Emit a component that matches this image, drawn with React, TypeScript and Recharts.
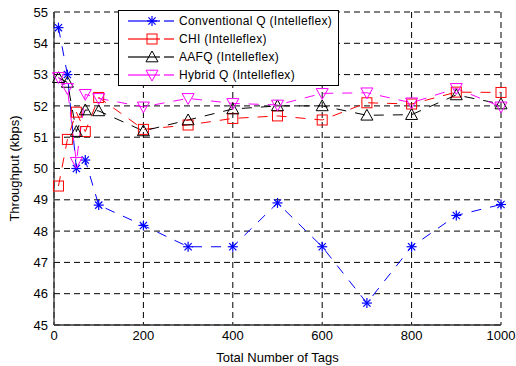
import React from 'react';
import { LineChart, Line, XAxis, YAxis, CartesianGrid } from 'recharts';

const tags = [10, 30, 50, 70, 100, 200, 300, 400, 500, 600, 700, 800, 900, 1000];
const conventionalQ = [54.5, 53.0, 50.0, 50.27, 48.83, 48.18, 47.5, 47.5, 48.9, 47.5, 45.7, 47.5, 48.5, 48.85];
const chi = [49.44, 50.93, 51.8, 51.18, 52.27, 51.25, 51.39, 51.6, 51.68, 51.55, 52.1, 52.06, 52.44, 52.43];
const aafq = [52.9, 52.75, 51.18, 51.87, 51.84, 51.2, 51.55, 51.9, 52.0, 52.0, 51.7, 51.72, 52.35, 52.06];
const hybridQ = [52.91, 52.56, 50.2, 52.37, 52.24, 51.97, 52.24, 52.08, 52.03, 52.4, 52.42, 52.1, 52.56, 51.97];
const xTicks = [0, 200, 400, 600, 800, 1000];
const yTicks = [45, 46, 47, 48, 49, 50, 51, 52, 53, 54, 55];

const data = tags.map((t, i) => ({
  tags: t,
  conv: conventionalQ[i],
  chi: chi[i],
  aafq: aafq[i],
  hybrid: hybridQ[i],
}));

const FONT = 'Liberation Sans, Arial, sans-serif';

const Star = (props: any) => {
  const { cx, cy, key } = props;
  if (cx == null || cy == null) return null;
  const r = 5;
  const d = r * 0.72;
  return (
    <g key={key} stroke="#0000ff" strokeWidth={1.2}>
      <line x1={cx - r} y1={cy} x2={cx + r} y2={cy} />
      <line x1={cx} y1={cy - r} x2={cx} y2={cy + r} />
      <line x1={cx - d} y1={cy - d} x2={cx + d} y2={cy + d} />
      <line x1={cx - d} y1={cy + d} x2={cx + d} y2={cy - d} />
    </g>
  );
};

const Square = (props: any) => {
  const { cx, cy, key } = props;
  if (cx == null || cy == null) return null;
  const s = 5;
  return <rect key={key} x={cx - s} y={cy - s} width={2 * s} height={2 * s} fill="none" stroke="#ff0000" strokeWidth={1} />;
};

const TriUp = (props: any) => {
  const { cx, cy, key } = props;
  if (cx == null || cy == null) return null;
  const s = 6;
  return <polygon key={key} points={`${cx},${cy - s} ${cx - s},${cy + s * 0.8} ${cx + s},${cy + s * 0.8}`} fill="none" stroke="#000" strokeWidth={1} />;
};

const TriDown = (props: any) => {
  const { cx, cy, key } = props;
  if (cx == null || cy == null) return null;
  const s = 6;
  return <polygon key={key} points={`${cx},${cy + s} ${cx - s},${cy - s * 0.8} ${cx + s},${cy - s * 0.8}`} fill="none" stroke="#ff00ff" strokeWidth={1} />;
};

const legendItems = [
  { label: 'Conventional Q (Intelleflex)', color: '#0000ff', marker: 'star' },
  { label: 'CHI (Intelleflex)', color: '#ff0000', marker: 'square' },
  { label: 'AAFQ (Intelleflex)', color: '#000000', marker: 'up' },
  { label: 'Hybrid Q (Intelleflex)', color: '#ff00ff', marker: 'down' },
];

const renderMarker = (m: string, cx: number, cy: number) => {
  if (m === 'star') return <Star cx={cx} cy={cy} />;
  if (m === 'square') return <Square cx={cx} cy={cy} />;
  if (m === 'up') return <TriUp cx={cx} cy={cy} />;
  return <TriDown cx={cx} cy={cy} />;
};

const LegendBox = () => (
  <div
    style={{
      position: 'absolute',
      left: 118,
      top: 10,
      width: 221,
      height: 76,
      border: '1px solid #000',
      background: '#fff',
      boxSizing: 'border-box',
      fontFamily: FONT,
      fontSize: 12,
    }}
  >
    {legendItems.map((it, i) => (
      <div key={it.label} style={{ position: 'absolute', left: 0, top: 1 + i * 18, height: 18, display: 'flex', alignItems: 'center' }}>
        <svg width={60} height={18} style={{ display: 'block' }}>
          <line x1={9} y1={9} x2={41} y2={9} stroke={it.color} strokeWidth={1.2} />
          <line x1={45} y1={9} x2={55} y2={9} stroke={it.color} strokeWidth={1.2} />
          {renderMarker(it.marker, 33, 9)}
        </svg>
        <span style={{ color: '#000', letterSpacing: 0.3, whiteSpace: 'nowrap' }}>{it.label}</span>
      </div>
    ))}
  </div>
);

const dash = '10 9';

export default function App() {
  return (
    <div style={{ position: 'fixed', left: 0, top: 0, width: 516, height: 366, background: '#fff' }}>
      <LineChart width={516} height={366} data={data} margin={{ top: 12, right: 15, bottom: 0, left: 0 }}>
        <CartesianGrid stroke="#000" strokeDasharray="6 4" strokeWidth={1} />
        <XAxis
          dataKey="tags"
          type="number"
          domain={[0, 1000]}
          ticks={xTicks}
          height={41}
          tickLine={false}
          tickSize={4}
          axisLine={{ stroke: '#333', strokeWidth: 1.3 }}
          tick={{ fill: '#000', fontSize: 13, fontFamily: FONT }}
          label={{ value: 'Total Number of Tags', position: 'insideBottom', offset: 4, fill: '#000', fontSize: 13, fontFamily: FONT }}
        />
        <YAxis
          type="number"
          domain={[45, 55]}
          ticks={yTicks}
          width={54}
          tickLine={false}
          tickSize={4}
          axisLine={{ stroke: '#333', strokeWidth: 1.3 }}
          tick={{ fill: '#000', fontSize: 13, fontFamily: FONT }}
          label={{ value: 'Throughput (kbps)', angle: -90, position: 'insideLeft', offset: 14, fill: '#000', fontSize: 13, fontFamily: FONT, style: { textAnchor: 'middle' } }}
        />
        <Line dataKey="conv" stroke="#0000ff" strokeWidth={1} strokeDasharray={dash} dot={<Star />} activeDot={false} isAnimationActive={false} />
        <Line dataKey="chi" stroke="#ff0000" strokeWidth={1} strokeDasharray={dash} dot={<Square />} activeDot={false} isAnimationActive={false} />
        <Line dataKey="aafq" stroke="#000000" strokeWidth={1} strokeDasharray={dash} dot={<TriUp />} activeDot={false} isAnimationActive={false} />
        <Line dataKey="hybrid" stroke="#ff00ff" strokeWidth={1} strokeDasharray={dash} dot={<TriDown />} activeDot={false} isAnimationActive={false} />
      </LineChart>
      <LegendBox />
    </div>
  );
}
